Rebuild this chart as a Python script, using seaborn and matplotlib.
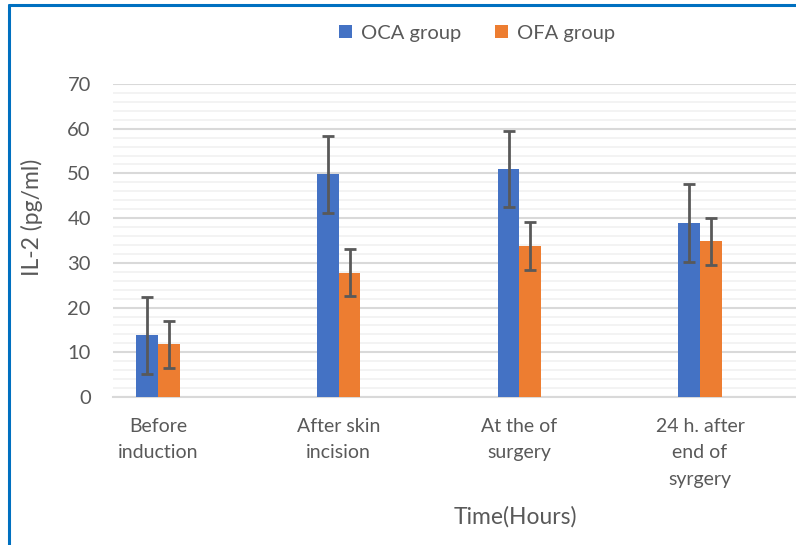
import numpy as np
import pandas as pd
import matplotlib
matplotlib.use('Agg')
import matplotlib.pyplot as plt
import seaborn as sns
from matplotlib.lines import Line2D
from matplotlib.ticker import MultipleLocator

# =========== DATA =============
categories = ['Before\ninduction', 'After skin\nincision', 'At the of\nsurgery', '24 h. after\nend of\nsyrgery']
groups = ['OCA group', 'OFA group']
oca_mean = [13.8, 49.8, 51.0, 38.9]
ofa_mean = [11.8, 27.8, 33.8, 34.8]
oca_err = [8.6, 8.6, 8.6, 8.7]
ofa_err = [5.3, 5.3, 5.3, 5.3]

colors = ['#4472C4', '#ED7D31']
text_grey = '#595959'

df = pd.DataFrame({
    'time': categories * 2,
    'group': [groups[0]] * 4 + [groups[1]] * 4,
    'value': oca_mean + ofa_mean,
})

# =========== PLOT =============
sns.set_style('white')
plt.rcParams['font.family'] = ['Lato', 'DejaVu Sans']

fig = plt.figure(figsize=(7.96, 5.45), dpi=100)
ax = fig.add_axes([113 / 796, 1 - 397 / 545, 1 - 113 / 796, (397 - 84) / 545])

sns.barplot(data=df, x='time', y='value', hue='group', palette=colors,
            width=0.24, errorbar=None, ax=ax, saturation=1, zorder=3,
            edgecolor='none')

# error bars at bar centers
errs = {groups[0]: oca_err, groups[1]: ofa_err}
means = {groups[0]: oca_mean, groups[1]: ofa_mean}
for container, g in zip(ax.containers, groups):
    xs = [p.get_x() + p.get_width() / 2 for p in container.patches]
    ax.errorbar(xs, means[g], yerr=errs[g], fmt='none', ecolor=text_grey,
                elinewidth=2, capsize=4.5, capthick=2, zorder=4)

ax.set_ylim(0, 70)
ax.set_xlim(-0.249, 3.531)
ax.yaxis.set_major_locator(MultipleLocator(10))
ax.yaxis.set_minor_locator(MultipleLocator(2))
ax.grid(which='minor', axis='y', color='#F2F2F2', linewidth=1.3, zorder=0)
ax.grid(which='major', axis='y', color='#D9D9D9', linewidth=1.5, zorder=1)
ax.set_axisbelow(True)

for s in ['top', 'right', 'left']:
    ax.spines[s].set_visible(False)
ax.spines['bottom'].set_color('#D9D9D9')
ax.spines['bottom'].set_linewidth(1.5)

ax.tick_params(axis='y', which='both', length=0, pad=16, labelsize=14.5, labelcolor=text_grey)
ax.tick_params(axis='x', length=0, pad=15, labelsize=14, labelcolor=text_grey)
for lbl in ax.get_xticklabels():
    lbl.set_linespacing(1.68)
    lbl.set_verticalalignment('top')

ax.set_xlabel('Time(Hours)', fontsize=16.5, color=text_grey)
ax.xaxis.set_label_coords((515 - 113) / (796 - 113), -(506 - 397) / (397 - 84))
ax.set_ylabel('IL-2 (pg/ml)', fontsize=16.5, color=text_grey)
ax.yaxis.set_label_coords(-(113 - 43) / (796 - 113), (397 - 217) / (397 - 84))

ax.legend(loc='center', bbox_to_anchor=((477 - 113) / (796 - 113), (397 - 33) / (397 - 84)),
          ncol=2, frameon=False, fontsize=14.5, labelcolor=text_grey,
          handlelength=0.65, handleheight=0.65, handletextpad=0.45, columnspacing=1.7)

# blue frame around chart area
fig.add_artist(Line2D([8.5 / 796, 8.5 / 796], [0, 1 - 4.5 / 545], color='#0070C0', lw=2.2,
                      transform=fig.transFigure))
fig.add_artist(Line2D([8.5 / 796, 1], [1 - 4.5 / 545, 1 - 4.5 / 545], color='#0070C0', lw=2.2,
                      transform=fig.transFigure))

fig.savefig('out.png', dpi=100)
